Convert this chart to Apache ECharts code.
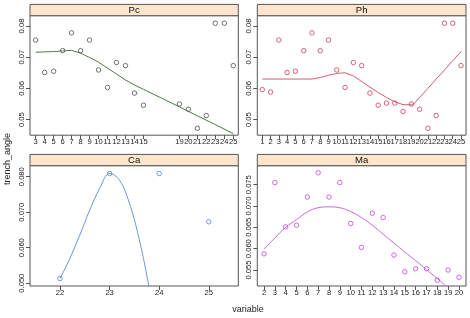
<!DOCTYPE html>
<html>
<head>
<meta charset="utf-8">
<script src="https://cdn.jsdelivr.net/npm/echarts@6/dist/echarts.min.js"></script>
<style>
  html, body { margin: 0; padding: 0; background: #fff; }
  #main { width: 470px; height: 318px; }
</style>
</head>
<body>
<div id="main"></div>
<script>
var chartDom = document.getElementById('main');
var myChart = echarts.init(chartDom, null, { renderer: 'canvas' });
var option;

// panel Pc
var pcVar = [3, 4, 5, 6, 7, 8, 9, 10, 11, 12, 13, 14, 15, 19, 20, 21, 22, 23, 24, 25];
var pcAngle = [0.0755, 0.0651, 0.0655, 0.0721, 0.0778, 0.0721, 0.0755, 0.0659, 0.0603, 0.0683,
  0.0673, 0.0585, 0.0546, 0.0550, 0.0533, 0.0472, 0.0513, 0.0809, 0.0809, 0.0673];
var pcSmoothX = [3, 4, 5, 6, 7, 7.2, 8, 9, 10, 11, 12, 13, 14, 15, 17, 19, 21, 23, 25];
var pcSmoothY = [0.0716, 0.0717, 0.0718, 0.0720, 0.0722, 0.0723, 0.0713, 0.0699, 0.0684, 0.0665,
  0.0646, 0.0627, 0.0611, 0.0597, 0.0569, 0.0541, 0.0512, 0.0484, 0.0455];

// panel Ph
var phVar = [1, 2, 3, 4, 5, 6, 7, 8, 9, 10, 11, 12, 13, 14, 15, 16, 17, 18, 19, 20, 21, 22, 23, 24, 25];
var phAngle = [0.0596, 0.0588, 0.0755, 0.0651, 0.0655, 0.0721, 0.0778, 0.0721, 0.0755, 0.0659,
  0.0603, 0.0683, 0.0673, 0.0585, 0.0546, 0.0553, 0.0553, 0.0526, 0.0550, 0.0533,
  0.0472, 0.0513, 0.0809, 0.0809, 0.0673];
var phSmoothX = [1, 7, 8, 9, 10, 11, 12, 13, 14, 15, 16, 17, 18, 19.2, 20, 21, 22, 23, 24, 25];
var phSmoothY = [0.0630, 0.0630, 0.0635, 0.0642, 0.0648, 0.0650, 0.0640, 0.0622, 0.0604, 0.0587,
  0.0571, 0.0557, 0.0548, 0.0547, 0.0571, 0.0600, 0.0630, 0.0659, 0.0689, 0.0718];

// panel Ca
var caVar = [22, 23, 24, 25];
var caAngle = [0.0513, 0.0809, 0.0809, 0.0673];
var caSmoothX = [22, 22.2, 22.4, 22.6, 22.8, 23, 23.2, 23.4, 23.6, 23.8, 23.9];
var caSmoothY = [0.0513, 0.0570, 0.0636, 0.0706, 0.0767, 0.0809, 0.0790, 0.0725, 0.0622, 0.0486, 0.0410];

// panel Ma
var maVar = [2, 3, 4, 5, 6, 7, 8, 9, 10, 11, 12, 13, 14, 15, 16, 17, 18, 19, 20];
var maAngle = [0.0588, 0.0755, 0.0651, 0.0655, 0.0721, 0.0778, 0.0721, 0.0755, 0.0659, 0.0603,
  0.0683, 0.0673, 0.0585, 0.0546, 0.0553, 0.0553, 0.0526, 0.0550, 0.0533];
var maSmoothX = [2, 3, 4, 5, 6, 7, 8, 9, 10, 11, 12, 13, 14, 15, 16, 17, 18, 19];
var maSmoothY = [0.0599, 0.0625, 0.0650, 0.0668, 0.0686, 0.0696, 0.0698, 0.0696, 0.0687, 0.0673,
  0.0655, 0.0634, 0.0613, 0.0592, 0.0572, 0.0551, 0.0530, 0.0508];

// tick labels
var ticksPcPhY = [0.05, 0.06, 0.07, 0.08];
var ticksCaY = [0.05, 0.06, 0.07, 0.08];
var ticksMaY = [0.055, 0.060, 0.065, 0.070, 0.075];

var font = 'Liberation Sans';
var boxColor = '#555';

function pairs(xs, ys) {
  return xs.map(function (x, i) { return [x, ys[i]]; });
}

var panels = [
  { name: 'Pc', grid: { left: 30, top: 15.7, width: 208.3, height: 119.5 },
    xmin: 2.37, xmax: 25.56, ymin: 0.0450, ymax: 0.0833, yTicks: ticksPcPhY, yDec: 2,
    xs: pcVar, ys: pcAngle, sx: pcSmoothX, sy: pcSmoothY, pt: '#505050', ln: '#4d7a45' },
  { name: 'Ph', grid: { left: 257.3, top: 15.7, width: 208.7, height: 119.5 },
    xmin: 0.40, xmax: 25.6, ymin: 0.0450, ymax: 0.0833, yTicks: ticksPcPhY, yDec: 2,
    xs: phVar, ys: phAngle, sx: phSmoothX, sy: phSmoothY, pt: '#c8405a', ln: '#d0606e' },
  { name: 'Ca', grid: { left: 30, top: 165.7, width: 208.3, height: 120.3 },
    xmin: 21.395, xmax: 25.595, ymin: 0.0492, ymax: 0.0831, yTicks: ticksCaY, yDec: 3,
    xs: caVar, ys: caAngle, sx: caSmoothX, sy: caSmoothY, pt: '#4f86d6', ln: '#6a98d8' },
  { name: 'Ma', grid: { left: 257.3, top: 165.7, width: 208.7, height: 120.3 },
    xmin: 1.38, xmax: 20.65, ymin: 0.05125, ymax: 0.07945, yTicks: ticksMaY, yDec: 3,
    xs: maVar, ys: maAngle, sx: maSmoothX, sy: maSmoothY, pt: '#c048d8', ln: '#c868dc' }
];

var grids = [], xAxes = [], yAxes = [], series = [], graphics = [];

panels.forEach(function (p, i) {
  grids.push(Object.assign({ show: true, borderColor: boxColor, borderWidth: 1, backgroundColor: '#fff' }, p.grid));
  xAxes.push({
    type: 'value', gridIndex: i, min: p.xmin, max: p.xmax,
    axisLine: { show: false },
    splitLine: { show: false },
    axisTick: { show: true, length: 4, lineStyle: { color: boxColor }, customValues: p.xs },
    axisLabel: { customValues: p.xs, fontFamily: font, fontSize: 7.6, color: '#222', margin: 3,
      formatter: function (v) { return String(v); } }
  });
  yAxes.push({
    type: 'value', gridIndex: i, min: p.ymin, max: p.ymax,
    axisLine: { show: false },
    splitLine: { show: false },
    axisTick: { show: true, length: 4, lineStyle: { color: boxColor }, customValues: p.yTicks },
    axisLabel: { customValues: p.yTicks, rotate: 90, fontFamily: font, fontSize: 7.6, color: '#222', margin: 4,
      formatter: function (v) { return v.toFixed(p.yDec); } }
  });
  series.push({
    type: 'line', xAxisIndex: i, yAxisIndex: i, z: 2,
    data: pairs(p.sx, p.sy), showSymbol: false, smooth: p.name === 'Ca' || p.name === 'Ma' ? 0.4 : false,
    lineStyle: { color: p.ln, width: 1 }, clip: true, silent: true
  });
  series.push({
    type: 'scatter', xAxisIndex: i, yAxisIndex: i, z: 3,
    data: pairs(p.xs, p.ys),
    symbol: 'circle', symbolSize: 4.5,
    itemStyle: { color: 'rgba(255,255,255,0)', borderColor: p.pt, borderWidth: 1 },
    clip: true, silent: true
  });
  var g = p.grid;
  graphics.push({
    type: 'rect', shape: { x: g.left, y: g.top - 11.3, width: g.width, height: 11.3 },
    style: { fill: '#ffe5cc', stroke: boxColor, lineWidth: 1 }
  });
  graphics.push({
    type: 'text', x: g.left + g.width / 2, y: g.top - 5.6,
    style: { text: p.name, fontFamily: font, fontSize: 9.5, fill: '#111', align: 'center', verticalAlign: 'middle' }
  });
});

graphics.push({
  type: 'text', x: 8, y: 159, rotation: Math.PI / 2,
  style: { text: 'trench_angle', fontFamily: font, fontSize: 9, fill: '#222', align: 'center', verticalAlign: 'middle' }
});
graphics.push({
  type: 'text', x: 248, y: 310,
  style: { text: 'variable', fontFamily: font, fontSize: 9, fill: '#222', align: 'center', verticalAlign: 'middle' }
});

option = {
  animation: false,
  backgroundColor: '#fff',
  grid: grids,
  xAxis: xAxes,
  yAxis: yAxes,
  series: series,
  graphic: graphics
};
myChart.setOption(option);
</script>
</body>
</html>
